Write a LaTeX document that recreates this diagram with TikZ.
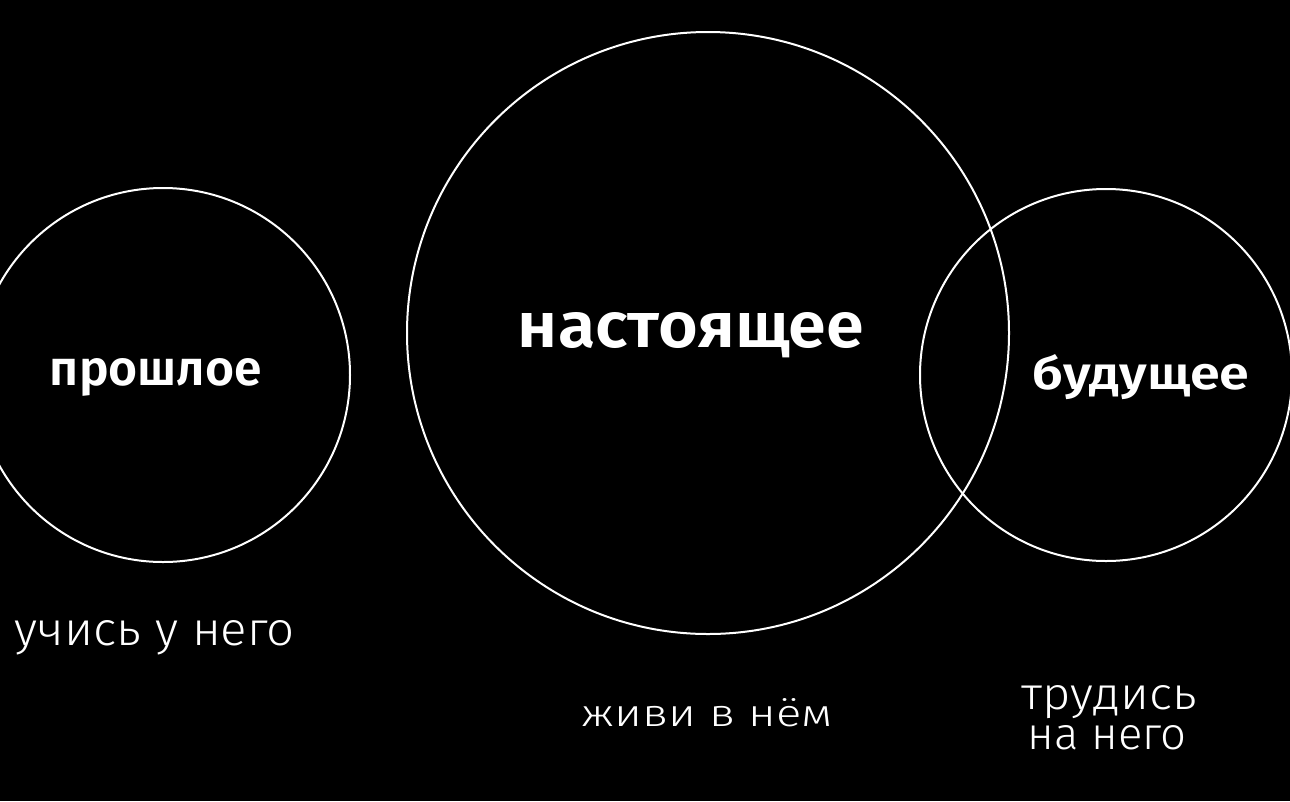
\documentclass[tikz,border=0pt]{standalone}
\usepackage{fontspec}
\usepackage{graphicx}
\setmainfont{Fira Sans}
\newfontfamily\headf{Fira Sans SemiBold}
\newfontfamily\thinf{Fira Sans Light}
\tikzset{
  ring/.style={circle, draw=white, line width=2pt, inner sep=0pt},
  bigtext/.style={text=white, inner sep=0pt, anchor=base, font=\headf},
  smalltext/.style={text=white, inner sep=0pt, anchor=base, font=\thinf},
}
\begin{document}
\begin{tikzpicture}[x=1pt,y=-1pt]
\fill[black] (0,0) rectangle (1290,801);
\useasboundingbox (0,0) rectangle (1290,801);
\clip (0,0) rectangle (1290,801);
\node[ring, minimum size=374pt] (past) at (163,375) {};
\node[ring, minimum size=602pt] (present) at (708,333) {};
\node[ring, minimum size=372pt] (future) at (1106,375) {};
\node[bigtext] (lpast) at (156,385) {\resizebox{212pt}{27pt}{прошлое}};
\node[bigtext] (lpres) at (691,347) {\resizebox{346pt}{35pt}{настоящее}};
\node[bigtext] (lfut) at (1141,389) {\resizebox{217pt}{35pt}{будущее}};
\node[smalltext] (tpast) at (155,645) {\resizebox{280pt}{25pt}{учись у него}};
\node[smalltext] (tpres) at (707,726) {\resizebox{251pt}{28pt}{живи в нём}};
\node[smalltext] (tfut1) at (1109,709) {\resizebox{175pt}{24pt}{трудись}};
\node[smalltext] (tfut2) at (1107,749) {\resizebox{159pt}{24pt}{на него}};
\end{tikzpicture}
\end{document}
